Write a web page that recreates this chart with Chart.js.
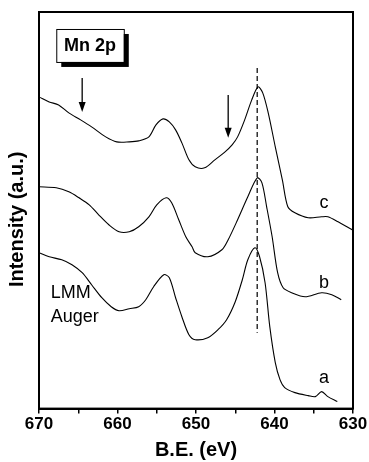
<!DOCTYPE html>
<html>
<head>
<meta charset="utf-8">
<script src="https://cdn.jsdelivr.net/npm/chart.js@4"></script>
<style>
html,body{margin:0;padding:0;background:#fff;}
#wrap{width:369px;height:462px;}
</style>
</head>
<body>
<div id="wrap"><canvas id="c" width="369" height="462"></canvas></div>
<script>
// Binding energy (eV) and intensity (a.u.)
const energyC = [670.0,668.7,667.5,666.2,664.7,663.3,661.5,660.1,658.5,657.3,656.0,655.1,654.2,653.4,652.6,651.8,650.9,650.1,648.9,647.6,646.3,645.4,644.7,643.8,642.9,642.1,641.5,640.8,639.9,639.0,638.3,637.4,635.7,634.0,633.2,631.9,630.1];
const intensC = [312,307,304,296,289,282,272,267,267,268,272,284,290,287,279,266,249,242,241,249,257,264,272,289,309,322,316,296,262,229,202,196,191,192,192,187,179];

const energyB = [670.0,667.8,666.2,664.9,663.6,662.4,661.1,659.8,658.5,657.3,656.0,655.0,653.8,653.1,652.2,651.3,650.5,650.1,648.5,646.7,645.9,644.7,643.4,642.2,641.6,641.0,640.3,639.6,638.9,637.8,636.1,634.0,632.7,631.5];
const intensB = [222,221,217,211,204,194,184,177,177,182,192,204,211,206,189,172,162,156,152,159,169,189,212,231,226,202,172,136,121,116,112,116,114,109];

const energyA = [670.0,668.7,667.1,665.8,664.5,663.3,662.0,660.8,659.8,658.5,657.3,656.4,655.4,654.1,653.4,652.6,651.8,650.9,650.1,648.5,647.2,646.1,645.0,644.1,643.4,642.5,641.9,641.2,640.6,639.9,639.3,638.7,637.4,635.7,634.8,634.0,633.2,632.0];
const intensA = [156,152,149,144,136,124,111,102,98,100,102,109,122,134,131,111,92,74,69,71,79,89,107,129,149,161,152,126,82,46,29,21,16,13,12,17,12,7];

const xTicks = [670,660,650,640,630];
const curveLabels = ['c','b','a'];
const labelEnergy = [633.7,633.7,633.7];
const labelIntens = [206,126,31];

const dashEnergy = [642.2,642.2];
const dashIntens = [341,76];

const arrowEnergy = [664.5,645.9];
const arrowFrom = [331,314];
const arrowTo = [297,271];

const augerText = ['LMM','Auger'];
const augerEnergy = 668.5;
const augerIntens = [116,92];

const boxText = 'Mn 2p';
const boxEnergy = [667.8,659.2];
const boxIntens = [380,347];

function pts(xs, ys){ return xs.map((x,i)=>({x:x,y:ys[i]})); }

const FONT = '"Liberation Sans", Arial, Helvetica, sans-serif';

const decor = {
  id:'decor',
  afterDatasetsDraw(chart){
    const {ctx, chartArea:a, scales:{x, y}} = chart;
    ctx.save();
    // arrows
    ctx.strokeStyle = '#000'; ctx.fillStyle = '#000'; ctx.lineWidth = 1.3;
    arrowEnergy.forEach((e,i)=>{
      const px = x.getPixelForValue(e);
      const y1 = y.getPixelForValue(arrowFrom[i]);
      const y2 = y.getPixelForValue(arrowTo[i]);
      ctx.beginPath(); ctx.moveTo(px,y1); ctx.lineTo(px,y2-8); ctx.stroke();
      ctx.beginPath(); ctx.moveTo(px-3.5,y2-10); ctx.lineTo(px+3.5,y2-10); ctx.lineTo(px,y2); ctx.closePath(); ctx.fill();
    });
    // box with shadow
    const bx1 = x.getPixelForValue(boxEnergy[0]), bx2 = x.getPixelForValue(boxEnergy[1]);
    const by1 = y.getPixelForValue(boxIntens[0]), by2 = y.getPixelForValue(boxIntens[1]);
    ctx.fillStyle = '#000';
    ctx.fillRect(bx1+5, by1+5, bx2-bx1, by2-by1);
    ctx.fillStyle = '#fff';
    ctx.fillRect(bx1, by1, bx2-bx1, by2-by1);
    ctx.strokeStyle = '#000'; ctx.lineWidth = 1;
    ctx.strokeRect(bx1+0.5, by1+0.5, bx2-bx1, by2-by1);
    ctx.fillStyle = '#000';
    ctx.font = 'bold 18px ' + FONT;
    ctx.textAlign = 'center'; ctx.textBaseline = 'middle';
    ctx.fillText(boxText, (bx1+bx2)/2, (by1+by2)/2+1);
    // curve labels
    ctx.font = '18px ' + FONT;
    curveLabels.forEach((t,i)=>{
      ctx.fillText(t, x.getPixelForValue(labelEnergy[i]), y.getPixelForValue(labelIntens[i]));
    });
    ctx.textAlign = 'left';
    augerText.forEach((t,i)=>{
      ctx.fillText(t, x.getPixelForValue(augerEnergy), y.getPixelForValue(augerIntens[i]));
    });
    // frame
    ctx.lineWidth = 2;
    ctx.strokeRect(a.left, a.top, a.right-a.left, a.bottom-a.top);
    // y title
    ctx.save();
    ctx.translate(a.left-22, (a.top+a.bottom)/2 + 9);
    ctx.rotate(-Math.PI/2);
    ctx.textAlign = 'center'; ctx.textBaseline = 'middle';
    ctx.font = 'bold 20px ' + FONT;
    ctx.fillText('Intensity (a.u.)', 0, 0);
    ctx.restore();
    ctx.restore();
  }
};

const lineStyle = {borderColor:'#000', borderWidth:1.1, pointRadius:0, tension:0.3, fill:false};

new Chart(document.getElementById('c'), {
  type:'line',
  data:{
    datasets:[
      Object.assign({label:'c', data:pts(energyC,intensC)}, lineStyle),
      Object.assign({label:'b', data:pts(energyB,intensB)}, lineStyle),
      Object.assign({label:'a', data:pts(energyA,intensA)}, lineStyle),
      {label:'peak', data:pts(dashEnergy,dashIntens), borderColor:'#333', borderWidth:1.5, borderDash:[5,3], pointRadius:0, fill:false}
    ]
  },
  options:{
    responsive:false,
    animation:false,
    devicePixelRatio:1,
    layout:{padding:{left:39, right:16, top:12, bottom:0}},
    plugins:{legend:{display:false}, tooltip:{enabled:false}},
    scales:{
      x:{
        type:'linear', min:630, max:670, reverse:true,
        afterBuildTicks(axis){
          const t=[]; for(let v=630; v<=670; v+=5) t.push({value:v});
          axis.ticks = t;
        },
        ticks:{
          autoSkip:false, maxRotation:0, padding:1, color:'#000',
          font:{family:FONT, size:17, weight:'bold'},
          callback:(v)=> xTicks.includes(v) ? String(v) : ''
        },
        grid:{drawOnChartArea:false, drawTicks:true, tickLength:5, color:'#000', lineWidth:1.5},
        border:{display:true, color:'#000', width:2},
        title:{display:true, text:'B.E. (eV)', color:'#000', font:{family:FONT, size:20, weight:'bold'}, padding:{top:2, bottom:0}}
      },
      y:{display:false, min:0, max:397}
    }
  },
  plugins:[decor]
});
</script>
</body>
</html>
